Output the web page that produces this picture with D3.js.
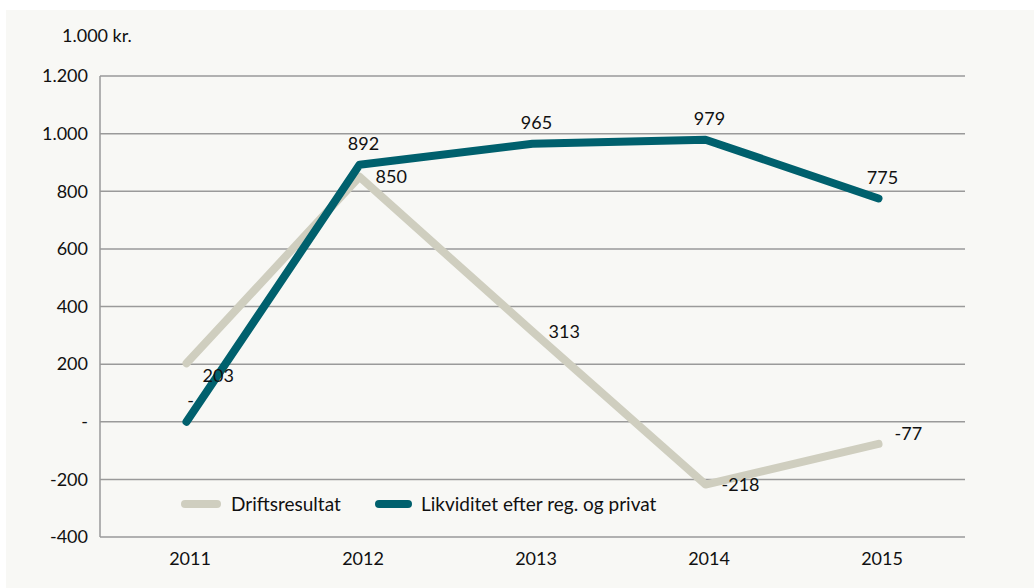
<!DOCTYPE html>
<html><head><meta charset="utf-8">
<script src="https://cdn.jsdelivr.net/npm/d3@7"></script>
<style>
html,body{margin:0;padding:0;background:#ffffff;}
svg{display:block;font-family:Lato, "Open Sans", sans-serif;}
</style></head>
<body><svg id="c" width="1034" height="588"></svg>
<script>
const years = ["2011","2012","2013","2014","2015"];
const driftsresultat = [203, 850, 313, -218, -77];
const likviditet = [0, 892, 965, 979, 775];
const driftsLabels = ["203","850","313","-218","-77"];
const likviditetLabels = ["-","892","965","979","775"];
const yTicks = [1200, 1000, 800, 600, 400, 200, 0, -200, -400];
const yTickLabels = ["1.200","1.000","800","600","400","200","-","-200","-400"];
const seriesNames = ["Driftsresultat", "Likviditet efter reg. og privat"];
const unitLabel = "1.000 kr.";

const svg = d3.select("#c");
svg.append("rect").attr("x",6).attr("y",10).attr("width",1028).attr("height",578).attr("fill","#f8f8f5");

const L = 100, R = 965, T = 76, B = 537;
const x = d3.scalePoint().domain(years).range([L, R]).padding(0.5);
const y = d3.scaleLinear().domain([-400, 1200]).range([B, T]);

const colDrift = "#cfcebf", colLikv = "#00606d", gridCol = "#9a9a9a";

// gridlines
svg.append("g").selectAll("line").data(yTicks).join("line")
  .attr("x1", L).attr("x2", R).attr("y1", d => y(d)).attr("y2", d => y(d))
  .attr("stroke", gridCol).attr("stroke-width", 1.5);
svg.append("line").attr("x1", L).attr("x2", L).attr("y1", T).attr("y2", B)
  .attr("stroke", gridCol).attr("stroke-width", 1.5);

// y axis labels
const yAxis = d3.axisLeft(y).tickValues(yTicks).tickSize(0).tickPadding(12)
  .tickFormat((d,i) => yTickLabels[i]);
const gy = svg.append("g").attr("transform", `translate(${L},0)`).call(yAxis);
gy.select(".domain").remove();
gy.selectAll("text").attr("font-size", 18).attr("fill", "#111").attr("font-family", "Lato");

// x axis labels
const xAxis = d3.axisBottom(x).tickSize(0).tickPadding(0);
const gx = svg.append("g").attr("transform", `translate(3,${B})`).call(xAxis);
gx.select(".domain").remove();
gx.selectAll(".tick text").attr("font-size", 18).attr("fill", "#111").attr("font-family", "Lato")
  .attr("dy", null).attr("y", 28);

// unit label
svg.append("text").attr("x", 62).attr("y", 42).attr("font-size", 18).attr("fill", "#111").text(unitLabel);

const line = d3.line().x((d,i) => x(years[i])).y(d => y(d));
svg.append("path").datum(driftsresultat).attr("d", line).attr("fill","none")
  .attr("stroke", colDrift).attr("stroke-width", 8).attr("stroke-linecap","round").attr("stroke-linejoin","round");
svg.append("path").datum(likviditet).attr("d", line).attr("fill","none")
  .attr("stroke", colLikv).attr("stroke-width", 8).attr("stroke-linecap","round").attr("stroke-linejoin","round");

// data labels - Driftsresultat: right of point, with small collision nudges
const driftNudge = [12, 0, 0, 0, -10];
svg.append("g").selectAll("text").data(driftsresultat).join("text")
  .attr("x", (d,i) => x(years[i]) + 16)
  .attr("y", (d,i) => y(d) + driftNudge[i])
  .attr("dy", "0.36em").attr("font-size", 18).attr("fill", "#111")
  .text((d,i) => driftsLabels[i]);

// data labels - Likviditet: above
svg.append("g").selectAll("text").data(likviditet).join("text")
  .attr("x", (d,i) => x(years[i]) + 4)
  .attr("y", d => y(d) - 21)
  .attr("dy", "0.36em").attr("text-anchor","middle").attr("font-size", 18).attr("fill", "#111")
  .text((d,i) => likviditetLabels[i]);

// legend
const lg = svg.append("g");
const legendItems = [
  {name: seriesNames[0], color: colDrift, x1: 185, x2: 217, tx: 231},
  {name: seriesNames[1], color: colLikv, x1: 379, x2: 408, tx: 421}
];
legendItems.forEach(it => {
  lg.append("line").attr("x1", it.x1).attr("x2", it.x2).attr("y1", 504).attr("y2", 504)
    .attr("stroke", it.color).attr("stroke-width", 8).attr("stroke-linecap","round");
  lg.append("text").attr("x", it.tx).attr("y", 504).attr("dy","0.36em")
    .attr("font-size", 19).attr("fill", "#111").text(it.name);
});
</script>
</body></html>
